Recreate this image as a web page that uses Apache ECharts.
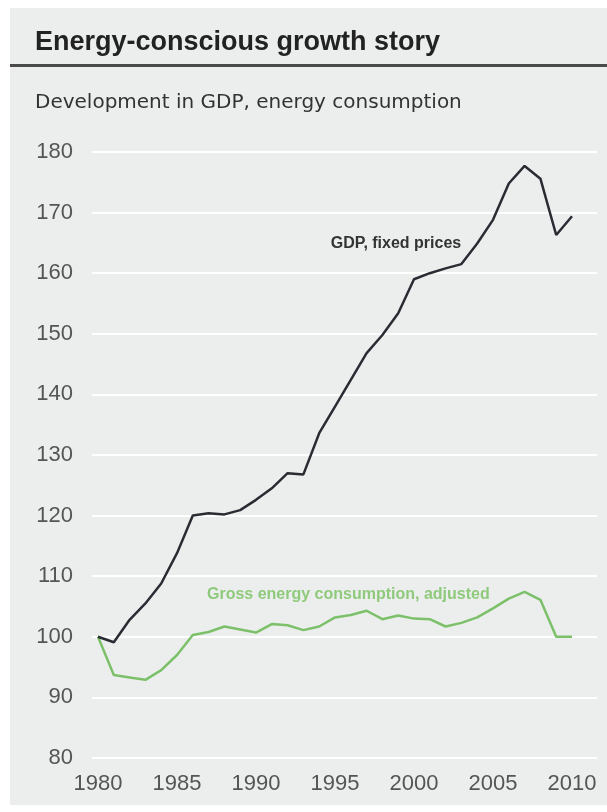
<!DOCTYPE html>
<html>
<head>
<meta charset="utf-8">
<script src="https://cdn.jsdelivr.net/npm/echarts@6/dist/echarts.min.js"></script>
<style>
html,body{margin:0;padding:0;background:#fff;}
#chart{width:607px;height:812px;}
</style>
</head>
<body>
<div id="chart"></div>
<script>
const years = [1980,1981,1982,1983,1984,1985,1986,1987,1988,1989,1990,1991,1992,1993,1994,1995,1996,1997,1998,1999,2000,2001,2002,2003,2004,2005,2006,2007,2008,2009,2010];
const gdp = [100,99.1,102.8,105.5,108.8,113.8,120,120.4,120.2,120.9,122.6,124.5,127,126.8,133.6,138,142.4,146.8,149.8,153.4,159,160,160.8,161.5,164.9,168.8,174.8,177.7,175.6,166.3,169.4];
const energy = [100,93.7,93.3,92.9,94.5,97,100.3,100.8,101.7,101.2,100.7,102.1,101.9,101.1,101.7,103.2,103.6,104.3,102.9,103.5,103,102.9,101.7,102.3,103.2,104.7,106.3,107.4,106.1,100,100];
const yTicks = {min: 80, max: 180, step: 10};
const xTicks = {min: 1980, max: 2010, step: 5};
const titleText = 'Energy-conscious growth story';
const subtitleText = 'Development in GDP, energy consumption';
const gdpLabel = 'GDP, fixed prices';
const energyLabel = 'Gross energy consumption, adjusted';

const FONT = '"Liberation Sans", Arial, sans-serif';
const chart = echarts.init(document.getElementById('chart'));
const pairs = (ys) => years.map((y, i) => [y, ys[i]]);

chart.setOption({
  animation: false,
  backgroundColor: '#ffffff',
  graphic: [
    {type: 'rect', z: -10, shape: {x: 10, y: 8, width: 597, height: 797}, style: {fill: '#eceeee'}},
    {type: 'rect', z: 5, shape: {x: 10, y: 64, width: 597, height: 3}, style: {fill: '#4a4a4a'}},
    {type: 'text', z: 10, x: 396, y: 244, style: {text: gdpLabel, font: 'bold 16px ' + FONT, fill: '#333', align: 'center', verticalAlign: 'middle'}},
    {type: 'text', z: 10, x: 207, y: 595, style: {text: energyLabel, font: 'bold 16px ' + FONT, fill: '#8fca7c', align: 'left', verticalAlign: 'middle'}}
  ],
  title: [
    {text: titleText, left: 30, top: 24, textStyle: {fontFamily: FONT, fontSize: 27, fontWeight: 'bold', color: '#222'}},
    {text: subtitleText, left: 30, top: 88, textStyle: {fontFamily: '"DejaVu Sans", ' + FONT, fontSize: 20, fontWeight: 'normal', color: '#333'}}
  ],
  grid: [
    {left: 92, right: 10, top: 152, bottom: 54},
    {left: 98, right: 35, top: 152, bottom: 54}
  ],
  xAxis: [
    {gridIndex: 0, type: 'value', min: xTicks.min, max: xTicks.max, show: false},
    {gridIndex: 1, type: 'value', min: xTicks.min, max: xTicks.max, interval: xTicks.step,
     axisLine: {show: false}, axisTick: {show: false}, splitLine: {show: false},
     axisLabel: {fontFamily: FONT, fontSize: 22, color: '#555', margin: 15, formatter: v => String(v)}}
  ],
  yAxis: [
    {gridIndex: 0, type: 'value', min: yTicks.min, max: yTicks.max, interval: yTicks.step,
     axisLine: {show: false}, axisTick: {show: false},
     splitLine: {lineStyle: {color: '#ffffff', width: 2}},
     axisLabel: {fontFamily: FONT, fontSize: 22, color: '#555', margin: 19}},
    {gridIndex: 1, type: 'value', min: yTicks.min, max: yTicks.max, show: false, splitLine: {show: false}}
  ],
  series: [
    {type: 'line', xAxisIndex: 1, yAxisIndex: 1, data: pairs(energy), symbol: 'none',
     lineStyle: {color: '#7cc16a', width: 2.5}, z: 3},
    {type: 'line', xAxisIndex: 1, yAxisIndex: 1, data: pairs(gdp), symbol: 'none',
     lineStyle: {color: '#2b2b33', width: 2.5}, z: 4}
  ]
});
</script>
</body>
</html>
